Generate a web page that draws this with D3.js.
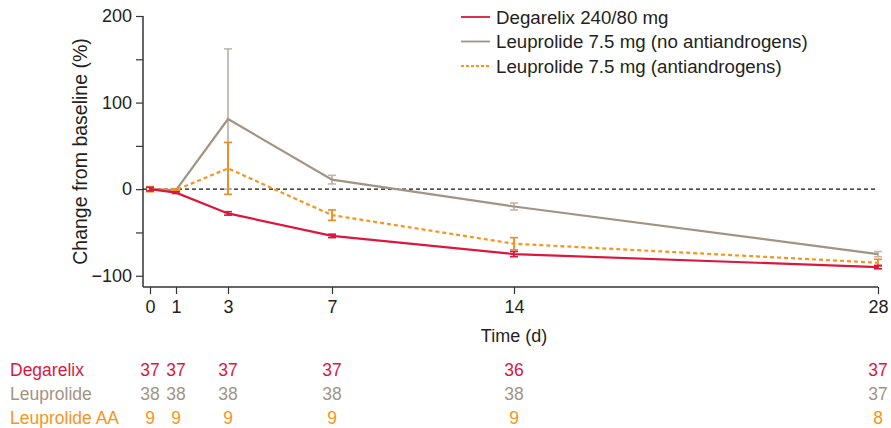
<!DOCTYPE html>
<html><head><meta charset="utf-8">
<script src="https://cdn.jsdelivr.net/npm/d3@7"></script>
<style>
body{margin:0;background:#fff;}
svg text{font-family:"Liberation Sans",Arial,Helvetica,sans-serif;fill:#231f20;}
</style></head>
<body><svg id="c" width="891" height="428"></svg>
<script>
const days = [0, 1, 3, 7, 14, 28];
const yTicks = [-100, 0, 100, 200];
const yMinorTicks = [-50, 50, 150];
const seriesNames = ["Degarelix 240/80 mg", "Leuprolide 7.5 mg (no antiandrogens)", "Leuprolide 7.5 mg (antiandrogens)"];
const degarelix = [0, -4, -28, -54, -75, -90];
const degarelixErr = [2, 1, 2, 2, 3, 2];
const leuprolide = [0, -1, 81, 11, -20, -75];
const leuprolideErr = [0, 1, 81, 5, 4, 3];
const leuprolideAA = [0, -1, 24, -30, -63, -85];
const leuprolideAAErr = [3, 1, 30, 6, 7, 4];
const tableLabels = ["Degarelix", "Leuprolide", "Leuprolide AA"];
const nDegarelix = [37, 37, 37, 37, 36, 37];
const nLeuprolide = [38, 38, 38, 38, 38, 37];
const nLeuprolideAA = [9, 9, 9, 9, 9, 8];

const colors = ["#d9173f", "#a39384", "#f7941d"];
const errColors = ["#d9173f", "#c2b6ac", "#ee8a22"];

const svg = d3.select("#c");
const x = d3.scaleLinear().domain([0, 28]).range([150, 878]);
const y = d3.scaleLinear().domain([-113, 200]).range([287, 16]);

// y axis
const yAxis = d3.axisLeft(y).tickValues(yTicks).tickSize(7).tickPadding(4)
  .tickFormat(d => d < 0 ? "\u2212" + Math.abs(d) : d);
const gy = svg.append("g").attr("transform", "translate(143,0)").call(yAxis);
gy.select(".domain").attr("d", `M0,${y(200)}V287`).attr("stroke", "#333").attr("stroke-width", 1.5);
gy.selectAll(".tick line").attr("stroke", "#333").attr("stroke-width", 1.2);
gy.selectAll(".tick text").style("font-size", "18px").attr("fill", "#231f20");
svg.append("g").attr("transform", "translate(143,0)")
  .call(d3.axisLeft(y).tickValues(yMinorTicks).tickSize(7).tickFormat(""))
  .call(g => { g.select(".domain").remove(); g.selectAll("line").attr("stroke", "#333").attr("stroke-width", 1.2); });

// x axis
const xAxis = d3.axisBottom(x).tickValues(days).tickSize(7).tickPadding(6);
const gx = svg.append("g").attr("transform", "translate(0,287)").call(xAxis);
gx.select(".domain").attr("d", `M143,0H${x(28)}`).attr("stroke", "#333").attr("stroke-width", 1.5);
gx.selectAll(".tick line").attr("stroke", "#333").attr("stroke-width", 1.2);
gx.selectAll(".tick text").style("font-size", "18px").attr("fill", "#231f20");

// axis titles
svg.append("text").attr("transform", `translate(87,${(y(200)+287)/2}) rotate(-90)`)
  .attr("text-anchor", "middle").style("font-size", "19.5px").text("Change from baseline (%)");
svg.append("text").attr("x", x(14)).attr("y", 342).attr("text-anchor", "middle")
  .style("font-size", "18px").text("Time (d)");

// zero reference line
svg.append("line").attr("x1", 143).attr("x2", x(28)).attr("y1", y(0)).attr("y2", y(0))
  .attr("stroke", "#111").attr("stroke-width", 1.3).attr("stroke-dasharray", "4,3");

const series = [
  {vals: degarelix, err: degarelixErr, dash: null},
  {vals: leuprolide, err: leuprolideErr, dash: null},
  {vals: leuprolideAA, err: leuprolideAAErr, dash: "4,3"}
];
const line = d3.line().x((d, i) => x(days[i])).y(d => y(d));

[1, 2, 0].forEach(si => {
  const s = series[si];
  const g = svg.append("g");
  s.vals.forEach((v, i) => {
    const e = s.err[i];
    if (e <= 0) return;
    const cx = x(days[i]);
    g.append("line").attr("x1", cx).attr("x2", cx).attr("y1", y(v - e)).attr("y2", y(v + e))
      .attr("stroke", errColors[si]).attr("stroke-width", 1.8);
    [v - e, v + e].forEach(t => g.append("line").attr("x1", cx - 4).attr("x2", cx + 4)
      .attr("y1", y(t)).attr("y2", y(t)).attr("stroke", errColors[si]).attr("stroke-width", 1.6));
  });
  g.append("path").attr("d", line(s.vals)).attr("fill", "none")
    .attr("stroke", colors[si]).attr("stroke-width", 2.2)
    .attr("stroke-dasharray", s.dash);
});

// legend
const lg = svg.append("g");
seriesNames.forEach((n, i) => {
  const ly = 17 + i * 24.5;
  lg.append("line").attr("x1", 461).attr("x2", 490).attr("y1", ly).attr("y2", ly)
    .attr("stroke", colors[i]).attr("stroke-width", 1.8).attr("stroke-dasharray", i === 2 ? "3,2" : null);
  lg.append("text").attr("x", 496).attr("y", ly + 6.5).style("font-size", "18.7px").text(n);
});

// table
const tableData = [nDegarelix, nLeuprolide, nLeuprolideAA];
tableLabels.forEach((lab, r) => {
  const ty = 375.5 + r * 24.3;
  svg.append("text").attr("x", 10).attr("y", ty)
    .style("font-size", "17.5px").style("fill", colors[r]).text(lab);
  tableData[r].forEach((n, i) => {
    svg.append("text").attr("x", x(days[i])).attr("y", ty)
      .attr("text-anchor", "middle").style("font-size", "17.5px").style("fill", colors[r]).text(n);
  });
});
</script></body></html>
